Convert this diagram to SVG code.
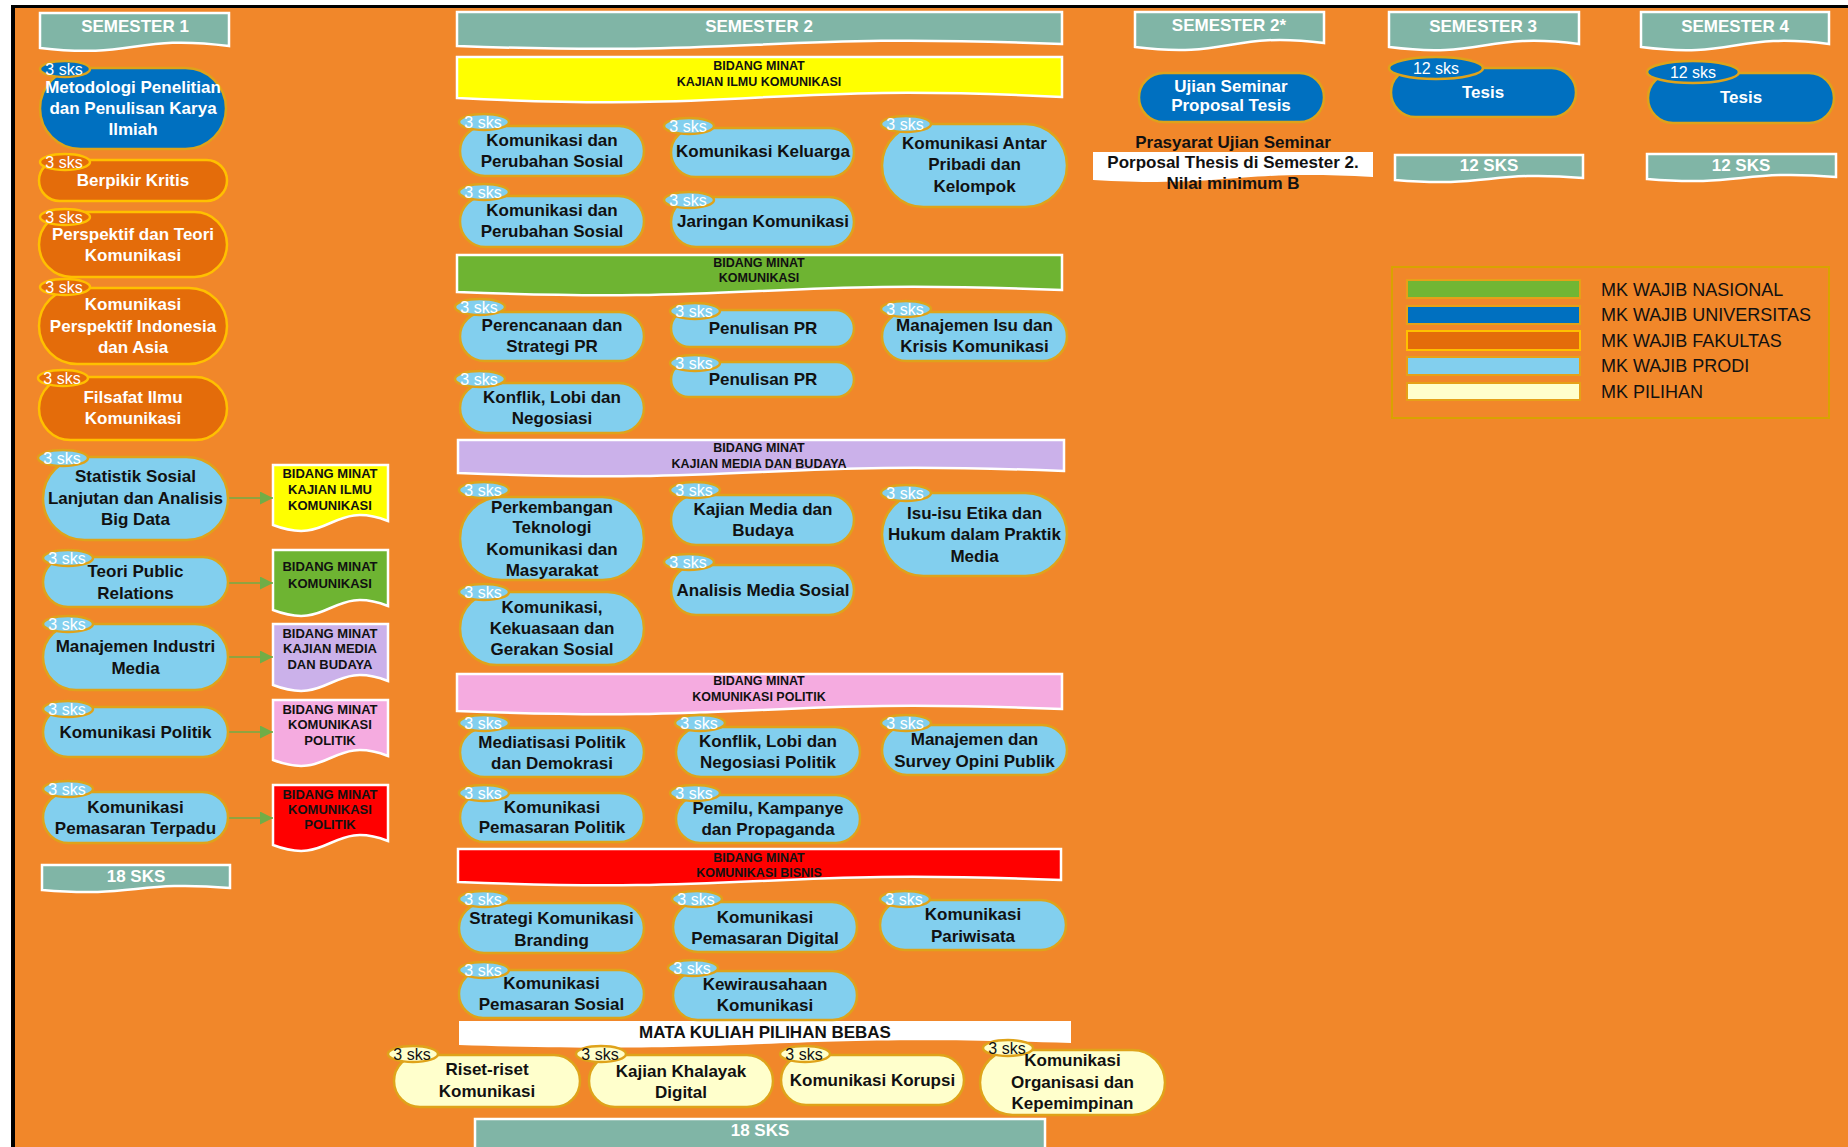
<svg xmlns="http://www.w3.org/2000/svg" width="1848" height="1147" viewBox="0 0 1848 1147">
<defs>
<style>
.t{font-family:"Liberation Sans",Arial,sans-serif;font-weight:bold;font-size:17px;text-anchor:middle}
.w{fill:#ffffff}
.k{fill:#111111}
.bt{font-family:"Liberation Sans",Arial,sans-serif;font-weight:normal;font-size:16px;text-anchor:middle}
.sm{font-family:"Liberation Sans",Arial,sans-serif;font-weight:bold;font-size:13px;text-anchor:middle;fill:#111111}
.bd{font-family:"Liberation Sans",Arial,sans-serif;font-weight:bold;font-size:12.5px;text-anchor:middle;fill:#111111}
.lg{font-family:"Liberation Sans",Arial,sans-serif;font-weight:normal;font-size:18px;fill:#111111}
.ban{fill:#80B5A6;stroke:#ffffff;stroke-width:2.5}
.blue{fill:#0070C0;stroke:#DFA31A;stroke-width:2.5}
.org{fill:#E46C0A;stroke:#FFC000;stroke-width:2.5}
.lb{fill:#82CFEE;stroke:#DFA31A;stroke-width:2.5}
.ly{fill:#FFFFCC;stroke:#DFA31A;stroke-width:2.5}
.conn{stroke:#70AD47;stroke-width:1.6;fill:none}
</style>
<marker id="arr" viewBox="0 0 10 10" refX="10" refY="5" markerWidth="15" markerHeight="13" markerUnits="userSpaceOnUse" orient="auto"><path d="M0,0 L10,5 L0,10 z" fill="#70AD47"/></marker>
</defs>

<rect x="0" y="0" width="1848" height="1147" fill="#ffffff"/>
<rect x="15" y="8" width="1833" height="1139" fill="#F1872A"/>
<rect x="11" y="5" width="4" height="1142" fill="#000000"/>
<rect x="11" y="5" width="1837" height="3" fill="#000000"/>

<!-- Semester banners -->
<g id="sem1"><path class="ban" d="M40,13 H229 V46 C134.5,34 134.5,59 40,48 Z"/><text class="t w" x="135" y="32">SEMESTER 1</text></g>
<g id="sem2"><path class="ban" d="M457,12 H1062 V44 C759.5,32 759.5,57 457,46 Z"/><text class="t w" x="759" y="32">SEMESTER 2</text></g>
<g id="sem2s"><path class="ban" d="M1135,12 H1324 V43 C1229.5,31 1229.5,59 1135,47 Z"/><text class="t w" x="1229" y="31">SEMESTER 2*</text></g>
<g id="sem3"><path class="ban" d="M1389,12 H1579 V44 C1484,32 1484,59 1389,47 Z"/><text class="t w" x="1483" y="32">SEMESTER 3</text></g>
<g id="sem4"><path class="ban" d="M1641,12 H1829 V44 C1735,32 1735,59 1641,47 Z"/><text class="t w" x="1735" y="32">SEMESTER 4</text></g>

<!-- SKS banners -->
<g id="sks1"><path class="ban" d="M42,865 H230 V888 C136,880 136,898 42,890 Z"/><text class="t w" x="136" y="882">18 SKS</text></g>
<g id="sks2"><path class="ban" d="M475,1119 H1045 V1160 H475 Z"/><text class="t w" x="760" y="1136">18 SKS</text></g>
<g id="sks3"><path class="ban" d="M1395,155 H1583 V178 C1489,170 1489,188 1395,180 Z"/><text class="t w" x="1489" y="171">12 SKS</text></g>
<g id="sks4"><path class="ban" d="M1647,154 H1836 V177 C1741.5,169 1741.5,187 1647,179 Z"/><text class="t w" x="1741" y="171">12 SKS</text></g>

<!-- Bidang bands (Semester 2) -->
<g id="band-kik"><path d="M457,57 H1062 V97 C759.5,82 759.5,113 457,98 Z" fill="#FFFF00" stroke="#ffffff" stroke-width="2.5"/><text class="bd" x="759" y="69.5">BIDANG MINAT</text><text class="bd" x="759" y="85.5">KAJIAN ILMU KOMUNIKASI</text></g>
<g id="band-kom"><path d="M457,255 H1062 V290 C759.5,278 759.5,304 457,292 Z" fill="#6EB432" stroke="#ffffff" stroke-width="2.5"/><text class="bd" x="759" y="266.5">BIDANG MINAT</text><text class="bd" x="759" y="281.5">KOMUNIKASI</text></g>
<g id="band-kmb"><path d="M458,440 H1064 V471 C761,459 761,485 458,473 Z" fill="#CBB1EA" stroke="#ffffff" stroke-width="2.5"/><text class="bd" x="759" y="451.5">BIDANG MINAT</text><text class="bd" x="759" y="467.5">KAJIAN MEDIA DAN BUDAYA</text></g>
<g id="band-kp"><path d="M457,674 H1062 V709 C759.5,697 759.5,723 457,711 Z" fill="#F5ABE0" stroke="#ffffff" stroke-width="2.5"/><text class="bd" x="759" y="684.5">BIDANG MINAT</text><text class="bd" x="759" y="700.5">KOMUNIKASI POLITIK</text></g>
<g id="band-kb"><path d="M458,849 H1061 V880 C759.5,868 759.5,894 458,882 Z" fill="#FF0000" stroke="#ffffff" stroke-width="2.5"/><text class="bd" x="759" y="861.5">BIDANG MINAT</text><text class="bd" x="759" y="876.5">KOMUNIKASI BISNIS</text></g>
<g id="band-bebas"><path d="M459,1021 H1071 V1043 C765,1033 765,1055 459,1045 Z" fill="#ffffff"/><text class="t k" x="765" y="1038">MATA KULIAH PILIHAN BEBAS</text></g>

<!-- Bidang doc boxes (left) -->
<g id="doc-kik"><path d="M273,465 H388 V521 C330.5,499 330.5,547 273,525 Z" fill="#FFFF00" stroke="#ffffff" stroke-width="2.5"/><text class="sm" x="330" y="477.5">BIDANG MINAT</text><text class="sm" x="330" y="493.5">KAJIAN ILMU</text><text class="sm" x="330" y="509.5">KOMUNIKASI</text></g>
<g id="doc-kom"><path d="M273,550 H388 V606 C330.5,584 330.5,632 273,610 Z" fill="#6EB432" stroke="#ffffff" stroke-width="2.5"/><text class="sm" x="330" y="570.5">BIDANG MINAT</text><text class="sm" x="330" y="587.5">KOMUNIKASI</text></g>
<g id="doc-kmb"><path d="M273,624 H388 V681 C330.5,659 330.5,707 273,685 Z" fill="#CBB1EA" stroke="#ffffff" stroke-width="2.5"/><text class="sm" x="330" y="637.5">BIDANG MINAT</text><text class="sm" x="330" y="652.5">KAJIAN MEDIA</text><text class="sm" x="330" y="668.5">DAN BUDAYA</text></g>
<g id="doc-kp"><path d="M273,700 H388 V756 C330.5,734 330.5,782 273,760 Z" fill="#F5ABE0" stroke="#ffffff" stroke-width="2.5"/><text class="sm" x="330" y="713.5">BIDANG MINAT</text><text class="sm" x="330" y="728.5">KOMUNIKASI</text><text class="sm" x="330" y="744.5">POLITIK</text></g>
<g id="doc-kb"><path d="M273,785 H388 V841 C330.5,819 330.5,867 273,845 Z" fill="#FF0000" stroke="#ffffff" stroke-width="2.5"/><text class="sm" x="330" y="798.5">BIDANG MINAT</text><text class="sm" x="330" y="813.5">KOMUNIKASI</text><text class="sm" x="330" y="828.5">POLITIK</text></g>

<!-- Connectors -->
<g id="connectors">
<line class="conn" x1="228" y1="498" x2="273" y2="498" marker-end="url(#arr)"/>
<line class="conn" x1="228" y1="583" x2="273" y2="583" marker-end="url(#arr)"/>
<line class="conn" x1="228" y1="657" x2="273" y2="657" marker-end="url(#arr)"/>
<line class="conn" x1="228" y1="732" x2="273" y2="732" marker-end="url(#arr)"/>
<line class="conn" x1="228" y1="818" x2="273" y2="818" marker-end="url(#arr)"/>
</g>

<!-- Semester 1 nodes -->
<g id="n-metodologi"><rect class="blue" x="40" y="68" width="186" height="81" rx="40.5"/><ellipse class="blue" cx="65" cy="69" rx="25" ry="8"/><text class="bt w" x="64" y="75">3 sks</text><text class="t w" x="133" y="93">Metodologi Penelitian</text><text class="t w" x="133" y="114">dan Penulisan Karya</text><text class="t w" x="133" y="135">Ilmiah</text></g>
<g id="n-berpikir"><rect class="org" x="39" y="160" width="188" height="41" rx="20.5"/><ellipse class="org" cx="65" cy="162" rx="25" ry="8"/><text class="bt w" x="64" y="168">3 sks</text><text class="t w" x="133" y="186">Berpikir Kritis</text></g>
<g id="n-perspektif"><rect class="org" x="39" y="212" width="188" height="65" rx="32.5"/><ellipse class="org" cx="65" cy="217" rx="25" ry="8"/><text class="bt w" x="64" y="223">3 sks</text><text class="t w" x="133" y="240">Perspektif dan Teori</text><text class="t w" x="133" y="261">Komunikasi</text></g>
<g id="n-indonesia"><rect class="org" x="39" y="288" width="188" height="76" rx="38"/><ellipse class="org" cx="65" cy="287" rx="25" ry="8"/><text class="bt w" x="64" y="293">3 sks</text><text class="t w" x="133" y="310">Komunikasi</text><text class="t w" x="133" y="332">Perspektif Indonesia</text><text class="t w" x="133" y="353">dan Asia</text></g>
<g id="n-filsafat"><rect class="org" x="39" y="377" width="188" height="63" rx="31.5"/><ellipse class="org" cx="63" cy="378" rx="25" ry="8"/><text class="bt w" x="62" y="384">3 sks</text><text class="t w" x="133" y="403">Filsafat Ilmu</text><text class="t w" x="133" y="424">Komunikasi</text></g>
<g id="n-statistik"><rect class="lb" x="43" y="457" width="185" height="83" rx="41.5"/><ellipse class="lb" cx="63" cy="458" rx="25" ry="8"/><text class="bt w" x="62" y="464">3 sks</text><text class="t k" x="135.5" y="482">Statistik Sosial</text><text class="t k" x="135.5" y="504">Lanjutan dan Analisis</text><text class="t k" x="135.5" y="525">Big Data</text></g>
<g id="n-teori"><rect class="lb" x="43" y="557" width="185" height="50" rx="25"/><ellipse class="lb" cx="68" cy="558" rx="25" ry="8"/><text class="bt w" x="67" y="564">3 sks</text><text class="t k" x="135.5" y="577">Teori Public</text><text class="t k" x="135.5" y="599">Relations</text></g>
<g id="n-manind"><rect class="lb" x="43" y="624" width="185" height="66" rx="33"/><ellipse class="lb" cx="68" cy="624" rx="25" ry="8"/><text class="bt w" x="67" y="630">3 sks</text><text class="t k" x="135.5" y="652">Manajemen Industri</text><text class="t k" x="135.5" y="674">Media</text></g>
<g id="n-kompol"><rect class="lb" x="43" y="707" width="185" height="50" rx="25"/><ellipse class="lb" cx="68" cy="709" rx="25" ry="8"/><text class="bt w" x="67" y="715">3 sks</text><text class="t k" x="135.5" y="738">Komunikasi Politik</text></g>
<g id="n-kompt"><rect class="lb" x="43" y="792" width="185" height="51" rx="25.5"/><ellipse class="lb" cx="68" cy="789" rx="25" ry="8"/><text class="bt w" x="67" y="795">3 sks</text><text class="t k" x="135.5" y="813">Komunikasi</text><text class="t k" x="135.5" y="834">Pemasaran Terpadu</text></g>

<!-- Semester 2: Kajian Ilmu Komunikasi -->
<g id="n-kps1"><rect class="lb" x="460" y="126" width="184" height="50" rx="25"/><ellipse class="lb" cx="484" cy="122" rx="25" ry="8"/><text class="bt w" x="483" y="128">3 sks</text><text class="t k" x="552" y="146">Komunikasi dan</text><text class="t k" x="552" y="167">Perubahan Sosial</text></g>
<g id="n-keluarga"><rect class="lb" x="671" y="128" width="183" height="49" rx="24.5"/><ellipse class="lb" cx="689" cy="126" rx="25" ry="8"/><text class="bt w" x="688" y="132">3 sks</text><text class="t k" x="763" y="157">Komunikasi Keluarga</text></g>
<g id="n-antar"><rect class="lb" x="882" y="124" width="185" height="83" rx="41.5"/><ellipse class="lb" cx="906" cy="124" rx="25" ry="8"/><text class="bt w" x="905" y="130">3 sks</text><text class="t k" x="974.5" y="149">Komunikasi Antar</text><text class="t k" x="974.5" y="170">Pribadi dan</text><text class="t k" x="974.5" y="192">Kelompok</text></g>
<g id="n-kps2"><rect class="lb" x="460" y="196" width="184" height="51" rx="25.5"/><ellipse class="lb" cx="484" cy="192" rx="25" ry="8"/><text class="bt w" x="483" y="198">3 sks</text><text class="t k" x="552" y="216">Komunikasi dan</text><text class="t k" x="552" y="237">Perubahan Sosial</text></g>
<g id="n-jaringan"><rect class="lb" x="671" y="197" width="183" height="50" rx="25"/><ellipse class="lb" cx="689" cy="200" rx="25" ry="8"/><text class="bt w" x="688" y="206">3 sks</text><text class="t k" x="763" y="227">Jaringan Komunikasi</text></g>

<!-- Semester 2: Komunikasi -->
<g id="n-perencanaan"><rect class="lb" x="460" y="312" width="184" height="49" rx="24.5"/><ellipse class="lb" cx="480" cy="307" rx="25" ry="8"/><text class="bt w" x="479" y="313">3 sks</text><text class="t k" x="552" y="331">Perencanaan dan</text><text class="t k" x="552" y="352">Strategi PR</text></g>
<g id="n-penulisan1"><rect class="lb" x="671" y="310" width="183" height="37" rx="18.5"/><ellipse class="lb" cx="695" cy="311" rx="25" ry="8"/><text class="bt w" x="694" y="317">3 sks</text><text class="t k" x="763" y="334">Penulisan PR</text></g>
<g id="n-isu"><rect class="lb" x="882" y="312" width="185" height="49" rx="24.5"/><ellipse class="lb" cx="906" cy="309" rx="25" ry="8"/><text class="bt w" x="905" y="315">3 sks</text><text class="t k" x="974.5" y="331">Manajemen Isu dan</text><text class="t k" x="974.5" y="352">Krisis Komunikasi</text></g>
<g id="n-konflik1"><rect class="lb" x="460" y="383" width="184" height="50" rx="25"/><ellipse class="lb" cx="480" cy="379" rx="25" ry="8"/><text class="bt w" x="479" y="385">3 sks</text><text class="t k" x="552" y="403">Konflik, Lobi dan</text><text class="t k" x="552" y="424">Negosiasi</text></g>
<g id="n-penulisan2"><rect class="lb" x="671" y="362" width="183" height="35" rx="17.5"/><ellipse class="lb" cx="695" cy="363" rx="25" ry="8"/><text class="bt w" x="694" y="369">3 sks</text><text class="t k" x="763" y="385">Penulisan PR</text></g>

<!-- Semester 2: Kajian Media dan Budaya -->
<g id="n-perkembangan"><rect class="lb" x="460" y="497" width="184" height="83" rx="41.5"/><ellipse class="lb" cx="484" cy="490" rx="25" ry="8"/><text class="bt w" x="483" y="496">3 sks</text><text class="t k" x="552" y="513">Perkembangan</text><text class="t k" x="552" y="533">Teknologi</text><text class="t k" x="552" y="555">Komunikasi dan</text><text class="t k" x="552" y="576">Masyarakat</text></g>
<g id="n-kajianmedia"><rect class="lb" x="671" y="495" width="183" height="50" rx="25"/><ellipse class="lb" cx="695" cy="490" rx="25" ry="8"/><text class="bt w" x="694" y="496">3 sks</text><text class="t k" x="763" y="515">Kajian Media dan</text><text class="t k" x="763" y="536">Budaya</text></g>
<g id="n-etika"><rect class="lb" x="882" y="493" width="185" height="83" rx="41.5"/><ellipse class="lb" cx="906" cy="493" rx="25" ry="8"/><text class="bt w" x="905" y="499">3 sks</text><text class="t k" x="974.5" y="519">Isu-isu Etika dan</text><text class="t k" x="974.5" y="540">Hukum dalam Praktik</text><text class="t k" x="974.5" y="562">Media</text></g>
<g id="n-analisis"><rect class="lb" x="671" y="565" width="183" height="50" rx="25"/><ellipse class="lb" cx="689" cy="562" rx="25" ry="8"/><text class="bt w" x="688" y="568">3 sks</text><text class="t k" x="763" y="596">Analisis Media Sosial</text></g>
<g id="n-kekuasaan"><rect class="lb" x="460" y="592" width="184" height="73" rx="36.5"/><ellipse class="lb" cx="484" cy="592" rx="25" ry="8"/><text class="bt w" x="483" y="598">3 sks</text><text class="t k" x="552" y="613">Komunikasi,</text><text class="t k" x="552" y="634">Kekuasaan dan</text><text class="t k" x="552" y="655">Gerakan Sosial</text></g>

<!-- Semester 2: Komunikasi Politik -->
<g id="n-mediatisasi"><rect class="lb" x="460" y="728" width="184" height="49" rx="24.5"/><ellipse class="lb" cx="484" cy="723" rx="25" ry="8"/><text class="bt w" x="483" y="729">3 sks</text><text class="t k" x="552" y="748">Mediatisasi Politik</text><text class="t k" x="552" y="769">dan Demokrasi</text></g>
<g id="n-konflik2"><rect class="lb" x="676" y="727" width="184" height="50" rx="25"/><ellipse class="lb" cx="700" cy="723" rx="25" ry="8"/><text class="bt w" x="699" y="729">3 sks</text><text class="t k" x="768" y="747">Konflik, Lobi dan</text><text class="t k" x="768" y="768">Negosiasi Politik</text></g>
<g id="n-survey"><rect class="lb" x="882" y="725" width="185" height="50" rx="25"/><ellipse class="lb" cx="906" cy="723" rx="25" ry="8"/><text class="bt w" x="905" y="729">3 sks</text><text class="t k" x="974.5" y="745">Manajemen dan</text><text class="t k" x="974.5" y="767">Survey Opini Publik</text></g>
<g id="n-pempol"><rect class="lb" x="460" y="793" width="184" height="49" rx="24.5"/><ellipse class="lb" cx="484" cy="793" rx="25" ry="8"/><text class="bt w" x="483" y="799">3 sks</text><text class="t k" x="552" y="813">Komunikasi</text><text class="t k" x="552" y="833">Pemasaran Politik</text></g>
<g id="n-pemilu"><rect class="lb" x="676" y="795" width="184" height="48" rx="24"/><ellipse class="lb" cx="695" cy="793" rx="25" ry="8"/><text class="bt w" x="694" y="799">3 sks</text><text class="t k" x="768" y="814">Pemilu, Kampanye</text><text class="t k" x="768" y="835">dan Propaganda</text></g>

<!-- Semester 2: Komunikasi Bisnis -->
<g id="n-branding"><rect class="lb" x="459" y="903" width="185" height="50" rx="25"/><ellipse class="lb" cx="484" cy="899" rx="25" ry="8"/><text class="bt w" x="483" y="905">3 sks</text><text class="t k" x="551.5" y="924">Strategi Komunikasi</text><text class="t k" x="551.5" y="946">Branding</text></g>
<g id="n-digital"><rect class="lb" x="673" y="902" width="184" height="50" rx="25"/><ellipse class="lb" cx="697" cy="899" rx="25" ry="8"/><text class="bt w" x="696" y="905">3 sks</text><text class="t k" x="765" y="923">Komunikasi</text><text class="t k" x="765" y="944">Pemasaran Digital</text></g>
<g id="n-pariwisata"><rect class="lb" x="880" y="900" width="186" height="50" rx="25"/><ellipse class="lb" cx="905" cy="899" rx="25" ry="8"/><text class="bt w" x="904" y="905">3 sks</text><text class="t k" x="973" y="920">Komunikasi</text><text class="t k" x="973" y="942">Pariwisata</text></g>
<g id="n-sosial"><rect class="lb" x="459" y="970" width="185" height="48" rx="24"/><ellipse class="lb" cx="484" cy="970" rx="25" ry="8"/><text class="bt w" x="483" y="976">3 sks</text><text class="t k" x="551.5" y="989">Komunikasi</text><text class="t k" x="551.5" y="1010">Pemasaran Sosial</text></g>
<g id="n-kewirausahaan"><rect class="lb" x="673" y="971" width="184" height="49" rx="24.5"/><ellipse class="lb" cx="693" cy="968" rx="25" ry="8"/><text class="bt w" x="692" y="974">3 sks</text><text class="t k" x="765" y="990">Kewirausahaan</text><text class="t k" x="765" y="1011">Komunikasi</text></g>

<!-- Pilihan bebas -->
<g id="n-riset"><rect class="ly" x="394" y="1055" width="186" height="52" rx="26"/><ellipse class="ly" cx="413" cy="1054" rx="25" ry="8"/><text class="bt k" x="412" y="1060">3 sks</text><text class="t k" x="487" y="1075">Riset-riset</text><text class="t k" x="487" y="1097">Komunikasi</text></g>
<g id="n-khalayak"><rect class="ly" x="589" y="1055" width="184" height="52" rx="26"/><ellipse class="ly" cx="601" cy="1054" rx="25" ry="8"/><text class="bt k" x="600" y="1060">3 sks</text><text class="t k" x="681" y="1077">Kajian Khalayak</text><text class="t k" x="681" y="1098">Digital</text></g>
<g id="n-korupsi"><rect class="ly" x="781" y="1055" width="183" height="50" rx="25"/><ellipse class="ly" cx="805" cy="1054" rx="25" ry="8"/><text class="bt k" x="804" y="1060">3 sks</text><text class="t k" x="872.5" y="1086">Komunikasi Korupsi</text></g>
<g id="n-organisasi"><rect class="ly" x="980" y="1050" width="185" height="65" rx="32.5"/><ellipse class="ly" cx="1008" cy="1048" rx="25" ry="8"/><text class="bt k" x="1007" y="1054">3 sks</text><text class="t k" x="1072.5" y="1066">Komunikasi</text><text class="t k" x="1072.5" y="1088">Organisasi dan</text><text class="t k" x="1072.5" y="1109">Kepemimpinan</text></g>

<!-- Semester 2* -->
<g id="n-ujian"><rect class="blue" x="1139" y="73" width="185" height="49" rx="24.5"/><text class="t w" x="1231" y="92">Ujian Seminar</text><text class="t w" x="1231" y="111">Proposal Tesis</text></g>
<g id="note-prasyarat"><path d="M1093,152 H1373 V177 C1233,169 1233,188 1093,180 Z" fill="#ffffff"/><text class="t k" x="1233" y="148">Prasyarat Ujian Seminar</text><text class="t k" x="1233" y="168">Porposal Thesis di Semester 2.</text><text class="t k" x="1233" y="189">Nilai minimum B</text></g>

<!-- Semester 3 / 4 -->
<g id="n-tesis3"><rect class="blue" x="1391" y="68" width="185" height="49" rx="24.5"/><ellipse class="blue" cx="1436" cy="68" rx="47" ry="11"/><text class="bt w" x="1436" y="74">12 sks</text><text class="t w" x="1483" y="98">Tesis</text></g>
<g id="n-tesis4"><rect class="blue" x="1648" y="73" width="186" height="50" rx="25"/><ellipse class="blue" cx="1693" cy="72" rx="46" ry="11"/><text class="bt w" x="1693" y="78">12 sks</text><text class="t w" x="1741" y="103">Tesis</text></g>

<!-- Legend -->
<g id="legend">
<rect x="1392" y="267" width="437" height="151" fill="none" stroke="#D9A300" stroke-width="2"/>
<rect x="1407" y="280" width="173" height="18" fill="#71B634" stroke="#E6A118" stroke-width="2"/>
<rect x="1407" y="306" width="173" height="18" fill="#0070C0" stroke="#E6A118" stroke-width="2"/>
<rect x="1407" y="331" width="173" height="19" fill="#E46C0A" stroke="#FFC000" stroke-width="2"/>
<rect x="1407" y="357" width="173" height="18" fill="#82CFEE" stroke="#E6A118" stroke-width="2"/>
<rect x="1407" y="383" width="173" height="17" fill="#FFFFCC" stroke="#E6A118" stroke-width="2"/>
<text class="lg" x="1601" y="295.5">MK WAJIB NASIONAL</text>
<text class="lg" x="1601" y="320.5">MK WAJIB UNIVERSITAS</text>
<text class="lg" x="1601" y="346.5">MK WAJIB FAKULTAS</text>
<text class="lg" x="1601" y="371.5">MK WAJIB PRODI</text>
<text class="lg" x="1601" y="397.5">MK PILIHAN</text>
</g>
</svg>
